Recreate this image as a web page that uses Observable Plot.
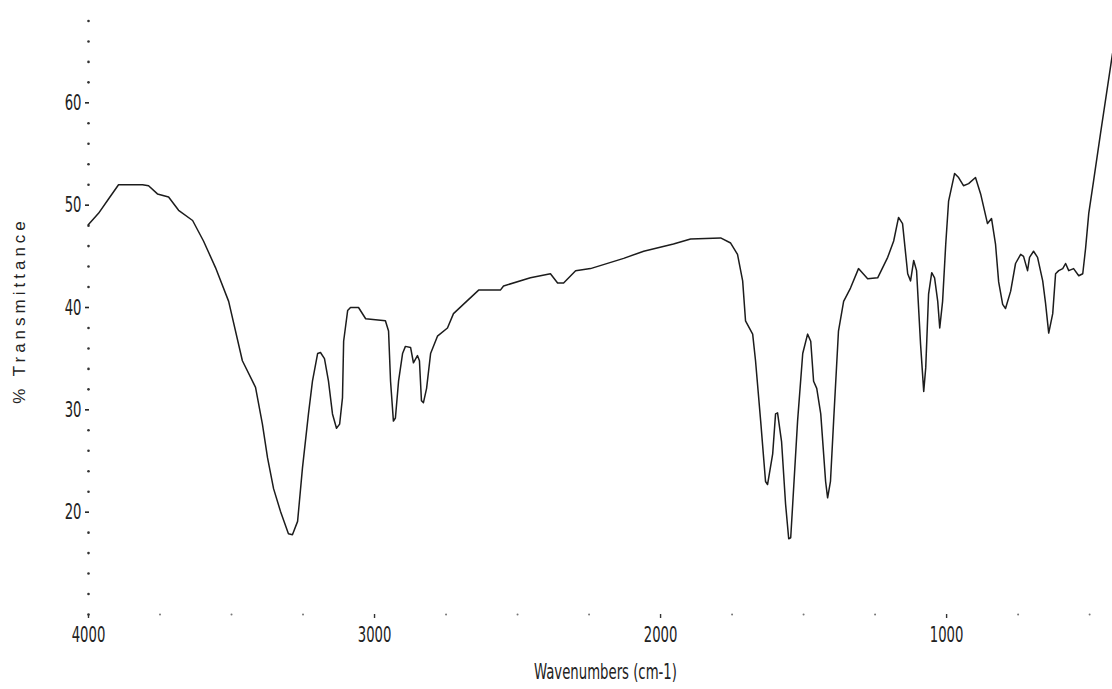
<!DOCTYPE html>
<html>
<head>
<meta charset="utf-8">
<script src="https://cdn.jsdelivr.net/npm/d3@7"></script>
<script src="https://cdn.jsdelivr.net/npm/@observablehq/plot@0.6"></script>
<style>
  html, body { margin: 0; padding: 0; background: #fff; }
  #chart svg { display: block; }
</style>
</head>
<body>
<div id="chart"></div>
<script>
// Wavenumbers (cm-1), left (4000) to right
const wavenumbers = [4000,3965,3930,3895,3811,3790,3759,3720,3685,3636,3598,3556,3510,3462,3416,3392,3374,3353,3329,3301,3287,3269,3252,3231,3217,3199,3189,3175,3161,3147,3133,3122,3112,3108,3094,3084,3056,3031,2962,2951,2944,2934,2927,2916,2902,2892,2874,2864,2850,2843,2836,2829,2818,2804,2780,2745,2724,2682,2636,2560,2549,2455,2385,2360,2339,2297,2245,2129,2059,1955,1895,1790,1755,1731,1713,1703,1678,1668,1650,1633,1626,1608,1598,1591,1577,1563,1552,1545,1538,1521,1503,1486,1475,1465,1454,1440,1423,1416,1406,1395,1378,1360,1336,1308,1276,1241,1206,1185,1168,1154,1136,1126,1115,1105,1091,1080,1073,1063,1052,1042,1031,1024,1014,1003,993,972,958,941,923,899,881,857,843,829,818,804,794,776,759,741,731,717,710,696,682,664,654,643,629,619,608,594,584,573,556,538,524,514,503,486,462,420];
// % Transmittance at each wavenumber
const transmittance = [48.1,49.2,50.6,52.0,52.0,51.9,51.1,50.8,49.5,48.5,46.5,43.9,40.6,34.8,32.2,28.6,25.3,22.3,20.1,17.9,17.8,19.1,24.3,29.6,32.8,35.5,35.6,35.0,32.8,29.6,28.2,28.6,31.2,36.7,39.7,40.0,40.0,38.9,38.7,37.7,32.8,28.9,29.2,32.8,35.5,36.2,36.1,34.6,35.3,34.8,30.9,30.7,32.1,35.5,37.2,38.0,39.4,40.5,41.7,41.7,42.1,42.9,43.3,42.4,42.4,43.6,43.8,44.8,45.5,46.2,46.7,46.8,46.3,45.2,42.6,38.7,37.4,34.8,28.9,23.0,22.7,25.7,29.6,29.7,26.9,20.8,17.4,17.5,20.8,28.9,35.5,37.4,36.7,32.8,32.1,29.6,23.0,21.4,23.0,28.9,37.7,40.6,41.9,43.8,42.8,42.9,44.9,46.5,48.8,48.2,43.3,42.6,44.6,43.6,36.4,31.8,34.1,41.3,43.4,42.9,40.6,38.0,40.6,46.2,50.4,53.1,52.7,51.9,52.1,52.7,51.1,48.2,48.7,46.2,42.5,40.3,39.9,41.6,44.3,45.2,45.0,43.6,44.9,45.5,44.9,42.6,40.4,37.5,39.4,43.3,43.6,43.8,44.3,43.6,43.8,43.1,43.3,45.8,49.2,52.4,57.0,64.8];

// Axis ticks
const xTickLabels = [4000, 3000, 2000, 1000];
const xMinorDots = [3750,3500,3250,2750,2500,2250,1750,1500,1250,750,500];
const yTickLabels = [20, 30, 40, 50, 60];
const yMinorDots = [10,12,14,16,18,22,24,26,28,32,34,36,38,42,44,46,48,52,54,56,58,62,64,66,68];
const xTitle = "Wavenumbers (cm-1)";
const yTitle = "% Transmittance";

const spectrum = wavenumbers.map((w, i) => ({w, t: transmittance[i]}));
const narrow = "'Liberation Sans Narrow', 'DejaVu Sans Condensed', 'Arial Narrow', 'Liberation Sans', sans-serif";

const chart = Plot.plot({
  width: 1112,
  height: 689,
  marginLeft: 88,
  marginRight: 0,
  marginTop: 0,
  marginBottom: 75,
  style: {background: "#fff", color: "#222"},
  x: {domain: [4000, 420]},
  y: {domain: [10, 70]},
  marks: [
    Plot.dot(yMinorDots, {x: () => 4000, y: d => d, r: 1.3, fill: "#333", stroke: null}),
    Plot.dot(xMinorDots, {x: d => d, y: () => 10, r: 1, fill: "#777", stroke: null}),
    Plot.axisY(yTickLabels, {
      tickSize: 4, tickPadding: 4, dx: 1, strokeWidth: 1.6, stroke: "#222",
      fontSize: 22, fontFamily: narrow, fill: "#222", label: null, tickFormat: d => String(d)
    }),
    Plot.axisX(xTickLabels, {
      tickSize: 4, tickPadding: 8, strokeWidth: 1.4, stroke: "#333",
      fontSize: 22, fontFamily: narrow, fill: "#222", label: null, tickFormat: d => String(d)
    }),
    Plot.line(spectrum, {x: "w", y: "t", stroke: "#1c1c1c", strokeWidth: 1.5}),
    Plot.text([xTitle], {frameAnchor: "bottom", dy: 64, dx: 5, fontSize: 22, fontFamily: narrow, fill: "#222", lineAnchor: "bottom", textAnchor: "middle"}),
    Plot.text([yTitle], {frameAnchor: "left", dx: -69, dy: 3, rotate: -90, textAnchor: "middle", fontSize: 17, fontFamily: "'Liberation Sans', Arial, sans-serif", fill: "#222"})
  ]
});

document.getElementById("chart").appendChild(chart);

// Condensed look of the scanned labels: squeeze horizontally to target widths
function squeeze(t, targetWidth, anchor) {
  const bb = t.getBBox();
  if (bb.width <= 0) return;
  const s = Math.min(1, targetWidth / bb.width);
  const ax = anchor === "end" ? bb.x + bb.width : bb.x + bb.width / 2;
  const prev = t.getAttribute("transform") || "";
  t.setAttribute("transform", `${prev} translate(${ax},0) scale(${s},1) translate(${-ax},0)`);
}
chart.querySelectorAll("text").forEach(t => {
  const txt = t.textContent;
  if (txt === yTitle) {
    t.style.letterSpacing = "4px";
  } else if (txt === xTitle) {
    squeeze(t, 143, "middle");
  } else if (yTickLabels.map(String).includes(txt)) {
    squeeze(t, 8.4 * txt.length, "end");
  } else if (xTickLabels.map(String).includes(txt)) {
    squeeze(t, 8.4 * txt.length, "middle");
  }
});
</script>
</body>
</html>
